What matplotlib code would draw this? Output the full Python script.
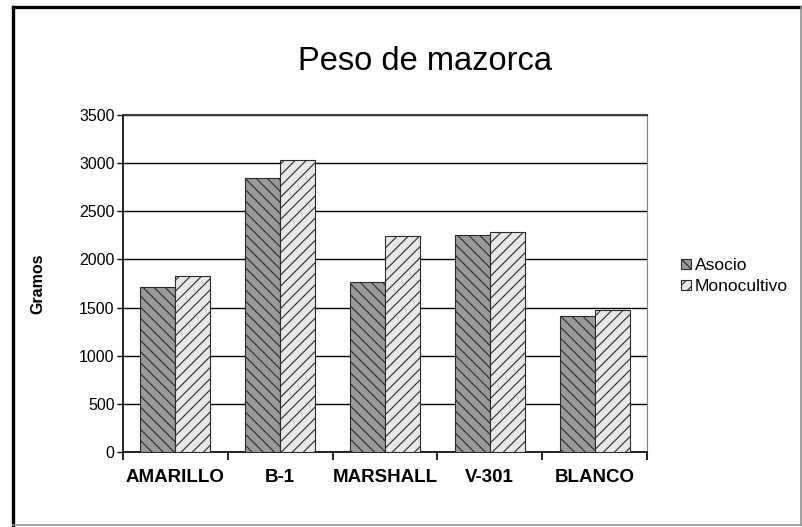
import matplotlib
matplotlib.use('Agg')
import matplotlib.pyplot as plt
import numpy as np
from matplotlib.lines import Line2D

plt.rcParams['font.family'] = ['Liberation Sans', 'DejaVu Sans']
plt.rcParams['hatch.linewidth'] = 0.8

# Data
categories = ['AMARILLO', 'B-1', 'MARSHALL', 'V-301', 'BLANCO']
asocio = [1715, 2845, 1770, 2255, 1410]
monocultivo = [1825, 3030, 2240, 2285, 1470]
y_ticks = [0, 500, 1000, 1500, 2000, 2500, 3000, 3500]

W, H = 802, 527
fig = plt.figure(figsize=(W / 100, H / 100), dpi=100)
fig.patch.set_facecolor('white')

# plot area in pixels
x0, x1, y_top, y_bot = 123, 647, 115, 452
ax = fig.add_axes([x0 / W, 1 - y_bot / H, (x1 - x0) / W, (y_bot - y_top) / H])

x = np.arange(len(categories))
bw = 1 / 3
b1 = ax.bar(x - bw / 2, asocio, bw, color='#9a9a9a', edgecolor='#2a2a2a',
            hatch='\\\\\\', linewidth=0.8, label='Asocio', zorder=3)
b2 = ax.bar(x + bw / 2, monocultivo, bw, color='#e8e8e8', edgecolor='#2a2a2a',
            hatch='///', linewidth=0.8, label='Monocultivo', zorder=3)

ax.set_xlim(-0.5, len(categories) - 0.5)
ax.set_ylim(0, 3500)
ax.set_yticks(y_ticks)
ax.set_yticklabels([str(v) for v in y_ticks], fontsize=11.5)
ax.yaxis.grid(True, color='black', linewidth=1.0, zorder=0)
ax.set_axisbelow(True)

ax.set_xticks(x)
ax.set_xticklabels(categories, fontsize=13.5, fontweight='bold')
ax.tick_params(axis='x', which='major', length=0, pad=12)
ax.set_xticks(np.arange(-0.5, len(categories), 1), minor=True)
ax.tick_params(axis='x', which='minor', length=6, width=1.2, direction='out')
ax.tick_params(axis='y', length=4, width=1, direction='out', pad=2)

for side in ['left', 'bottom']:
    ax.spines[side].set_color('black')
    ax.spines[side].set_linewidth(1.2)
ax.spines['right'].set_color('#808080')
ax.spines['top'].set_color('#404040')
ax.spines['top'].set_linewidth(1.5)

ax.set_ylabel('Gramos', fontsize=11.5, fontweight='bold', labelpad=24)

fig.text(425 / W, 1 - 62 / H, 'Peso de mazorca', fontsize=23.5,
         ha='center', va='center')

fig.legend(handles=[b1, b2], loc='center left', bbox_to_anchor=(681 / W, 1 - 276 / H),
           frameon=False, fontsize=12.5, handlelength=0.55, handleheight=0.55,
           handletextpad=0.25, labelspacing=0.35, borderpad=0, borderaxespad=0)

# chart frame
fig.add_artist(Line2D([13 / W, 13 / W], [1 - 7 / H, 1 - 525 / H], color='black',
                      linewidth=2.4, transform=fig.transFigure))
fig.add_artist(Line2D([13 / W, 1], [1 - 7 / H, 1 - 7 / H], color='black',
                      linewidth=2.4, transform=fig.transFigure))
fig.add_artist(Line2D([13 / W, 1], [1 - 525 / H, 1 - 525 / H], color='#909090',
                      linewidth=1.2, transform=fig.transFigure))
fig.add_artist(Line2D([801 / W, 801 / W], [1 - 7 / H, 1 - 525 / H], color='#909090',
                      linewidth=1.2, transform=fig.transFigure))

fig.savefig('out.png', dpi=100)
